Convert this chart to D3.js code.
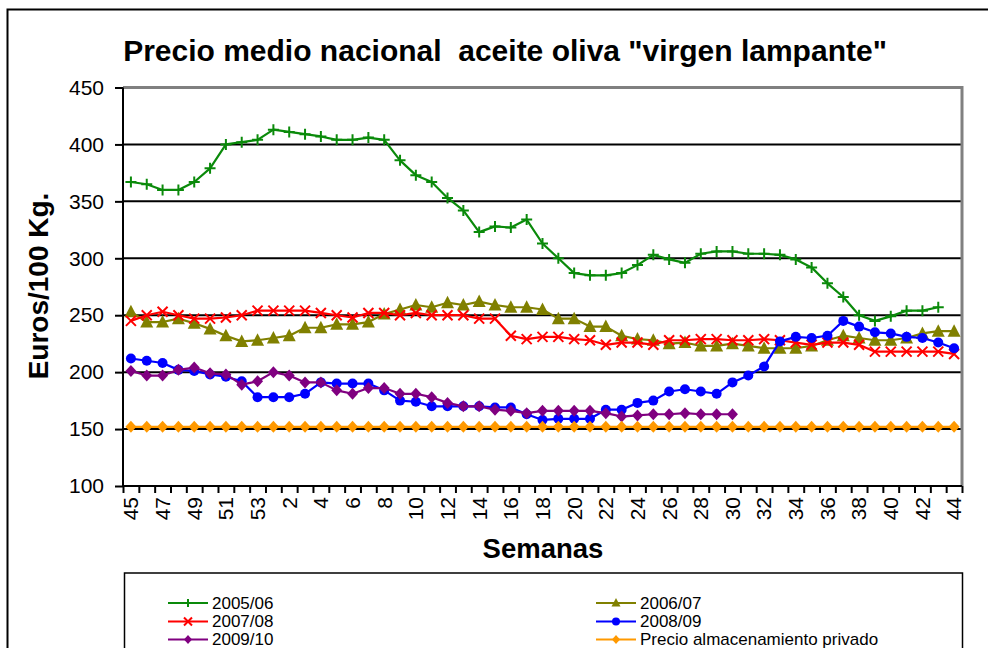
<!DOCTYPE html>
<html>
<head>
<meta charset="utf-8">
<script src="https://cdn.jsdelivr.net/npm/d3@7"></script>
<style>
  html, body { margin: 0; padding: 0; background: #fff; }
  svg { display: block; font-family: "Liberation Sans", Arial, sans-serif; }
</style>
</head>
<body>
<svg id="chart" width="988" height="648"></svg>
<script>
// ---------- DATA ----------
const weeks = ["45","46","47","48","49","50","51","52","53",
  "1","2","3","4","5","6","7","8","9","10","11","12","13","14","15","16","17","18","19","20",
  "21","22","23","24","25","26","27","28","29","30","31","32","33","34","35","36","37","38","39","40",
  "41","42","43","44"];
const yTicks = [100,150,200,250,300,350,400,450];

const s0506 = [367,365,360,360,367,379,400,402,404,413,411,409,407,404,404,406,404,386,373,367,
  353,342,323,328,327,334,313,300,287,285,285,287,294,303,299,296,304,306,306,304,
  304,303,299,292,278,266,250,245,249,254,254,257,null];
const s0607 = [253,244,244,247,243,238,232,227,228,230,232,239,239,242,242,244,251,255,259,257,
  261,259,262,259,257,257,255,247,247,240,240,232,229,228,225,226,223,223,225,223,
  221,221,221,223,228,232,230,228,228,230,234,236,236];
const s0708 = [245,250,253,250,247,247,248,250,254,254,254,254,252,250,248,252,252,250,252,250,
  250,250,247,247,232,229,231,231,229,228,224,226,226,224,228,228,229,229,228,228,
  229,228,226,224,226,226,224,218,218,218,218,218,216];
const s0809 = [212,210,208,202,201,198,196,192,178,178,178,181,191,190,190,190,184,175,174,170,
  170,170,170,169,169,163,158,159,159,159,167,167,173,175,183,185,183,181,191,197,
  205,227,231,230,232,245,240,235,234,231,230,226,221];
const s0910 = [201,197,197,202,204,199,198,189,192,200,197,191,191,184,181,186,186,181,181,178,
  173,170,170,167,166,164,166,166,166,166,164,161,162,163,163,164,163,163,163,
  null,null,null,null,null,null,null,null,null,null,null,null,null,null];
const sStorage = [152,152,152,152,152,152,152,152,152,152,152,152,152,152,152,152,152,152,152,152,
  152,152,152,152,152,152,152,152,152,152,152,152,152,152,152,152,152,152,152,152,
  152,152,152,152,152,152,152,152,152,152,152,152,152];

const seriesNames = ["2005/06","2006/07","2007/08","2008/09","2009/10","Precio almacenamiento privado"];
const seriesValues = [s0506, s0607, s0708, s0809, s0910, sStorage];
const seriesColors = ["#0a8a0a","#808000","#ff0000","#0000ff","#800080","#ff9900"];
const seriesMarkers = ["plus","triangle","cross","circle","diamond","diamond"];

// ---------- LAYOUT ----------
const svg = d3.select("#chart");
const L = 123, R = 962, T = 87.5, B = 486;

svg.append("rect").attr("x",0).attr("y",0).attr("width",988).attr("height",648).attr("fill","#fff");
// outer frame
svg.append("rect").attr("x",7.5).attr("y",9.5).attr("width",1000).attr("height",700)
  .attr("fill","none").attr("stroke","#000").attr("stroke-width",2);

const x = d3.scaleBand().domain(weeks).range([L, R]);
const xc = d => x(d) + x.bandwidth()/2;
const y = d3.scaleLinear().domain([100,450]).range([B, T]);

// gridlines
svg.append("g").selectAll("line").data(yTicks.filter(v => v > 100 && v < 450)).join("line")
  .attr("x1", L).attr("x2", R).attr("y1", d => y(d)).attr("y2", d => y(d))
  .attr("stroke","#000").attr("stroke-width",2);

// plot border top/right (gray)
svg.append("path").attr("d", `M${L},${T}H${R}V${B}`).attr("fill","none")
  .attr("stroke","#808080").attr("stroke-width",3);

// y axis
const yAxis = svg.append("g").attr("transform", `translate(${L},0)`)
  .call(d3.axisLeft(y).tickValues(yTicks).tickSize(8).tickPadding(11).tickFormat(d3.format("d")));
yAxis.select(".domain").attr("stroke","#000").attr("stroke-width",2).attr("d", `M0,${T}V${B}`);
yAxis.selectAll(".tick line").attr("stroke","#000").attr("stroke-width",2);
yAxis.selectAll(".tick text").attr("font-size",21).attr("fill","#000")
  .attr("font-family","Liberation Sans, Arial, sans-serif");

// x axis: boundary ticks
const xb = d3.scaleLinear().domain([0, weeks.length]).range([L, R]);
const xTickAxis = svg.append("g").attr("transform", `translate(0,${B})`)
  .call(d3.axisBottom(xb).tickValues(d3.range(0, weeks.length+1)).tickSize(7).tickFormat(""));
xTickAxis.select(".domain").attr("stroke","#000").attr("stroke-width",2).attr("d", `M${L},0H${R}`);
xTickAxis.selectAll(".tick line").attr("stroke","#000").attr("stroke-width",2);

// x axis labels (every other week)
const xLab = svg.append("g").attr("transform", `translate(0,${B})`)
  .call(d3.axisBottom(x).tickValues(weeks.filter((d,i) => i % 2 === 0)).tickSize(0));
xLab.select(".domain").remove();
xLab.selectAll(".tick text")
  .attr("font-size",21).attr("fill","#000").attr("font-family","Liberation Sans, Arial, sans-serif")
  .attr("text-anchor","end").attr("dy","0.35em")
  .attr("transform","translate(0,11) rotate(-90)").attr("x",0).attr("y",0);

// titles
svg.append("text").attr("x",505).attr("y",61).attr("text-anchor","middle")
  .attr("font-size",30).attr("font-weight","bold").attr("fill","#000")
  .style("white-space","pre")
  .text('Precio medio nacional  aceite oliva "virgen lampante"');
svg.append("text").attr("x",543).attr("y",558).attr("text-anchor","middle")
  .attr("font-size",27.5).attr("font-weight","bold").attr("fill","#000").text("Semanas");
svg.append("text").attr("transform","translate(48,286) rotate(-90)").attr("text-anchor","middle")
  .attr("font-size",28).attr("font-weight","bold").attr("fill","#000").text("Euros/100 Kg.");

// markers
function drawMarker(g, type, color, size) {
  const s = size;
  if (type === "plus") {
    g.append("path").attr("d", `M${-s},0H${s}M0,${-s}V${s}`).attr("stroke",color).attr("stroke-width",2).attr("fill","none");
  } else if (type === "cross") {
    g.append("path").attr("d", `M${-s},${-s}L${s},${s}M${-s},${s}L${s},${-s}`).attr("stroke",color).attr("stroke-width",2).attr("fill","none");
  } else if (type === "triangle") {
    g.append("path").attr("d", `M0,${-s-1}L${s+0.5},${s-0.5}L${-s-0.5},${s-0.5}Z`).attr("fill",color);
  } else if (type === "circle") {
    g.append("circle").attr("r", s).attr("fill",color);
  } else if (type === "diamond") {
    g.append("path").attr("d", `M0,${-s-0.5}L${s},0L0,${s+0.5}L${-s},0Z`).attr("fill",color);
  }
}
const markerSize = {plus:5.5, cross:5, triangle:6, circle:5, diamond:5.5};

seriesValues.forEach((vals, si) => {
  const pts = weeks.map((w,i) => ({w, v: vals[i]})).filter(p => p.v != null);
  const line = d3.line().x(p => xc(p.w)).y(p => y(p.v));
  const g = svg.append("g");
  g.append("path").datum(pts).attr("d", line).attr("fill","none")
    .attr("stroke", seriesColors[si]).attr("stroke-width", 2.2).attr("stroke-linejoin","round");
  pts.forEach(p => {
    const mg = g.append("g").attr("transform", `translate(${xc(p.w)},${y(p.v)})`);
    drawMarker(mg, seriesMarkers[si], seriesColors[si], markerSize[seriesMarkers[si]]);
  });
});

// legend
svg.append("rect").attr("x",124.5).attr("y",573).attr("width",838).attr("height",120)
  .attr("fill","#fff").attr("stroke","#000").attr("stroke-width",1.5);
const legPos = [[168,603],[596,603],[168,621.5],[596,621.5],[168,639.5],[596,639.5]];
seriesNames.forEach((name, i) => {
  const [lx, ly] = legPos[i];
  const g = svg.append("g");
  g.append("line").attr("x1",lx).attr("x2",lx+40).attr("y1",ly).attr("y2",ly)
    .attr("stroke",seriesColors[i]).attr("stroke-width",2.2);
  const mg = g.append("g").attr("transform",`translate(${lx+20},${ly})`);
  drawMarker(mg, seriesMarkers[i], seriesColors[i], 4);
  g.append("text").attr("x",lx+44).attr("y",ly).attr("dy","0.35em")
    .attr("font-size",17).attr("fill","#000").text(name);
});
</script>
</body>
</html>
